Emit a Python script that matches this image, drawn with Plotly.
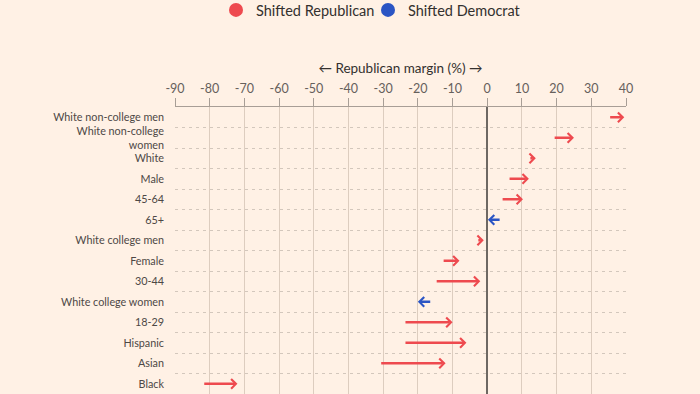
import plotly.graph_objects as go

categories = ["White non-college men", "White non-college<br>women", "White", "Male", "45-64", "65+",
              "White college men", "Female", "30-44", "White college women", "18-29", "Hispanic",
              "Asian", "Black"]
margin_2020 = [35, 19, 12, 6, 4, 4, -3, -13, -15, -16, -24, -24, -31, -82]
margin_2024 = [39.5, 25, 14, 12, 10.3, 0.2, -1, -8, -2, -20, -10, -6, -12, -72]
x_ticks = [-90, -80, -70, -60, -50, -40, -30, -20, -10, 0, 10, 20, 30, 40]
x_tick_labels = ["-90", "-80", "-70", "-60", "-50", "-40", "-30", "-20", "-10", "0", "10", "20", "30", "40"]

RED = "#ee4a4f"
BLUE = "#2b55c4"
BG = "#fff1e5"
FONT = "Lato"

fig = go.Figure()

# invisible trace to establish category axis
fig.add_trace(go.Scatter(x=margin_2024, y=categories, mode="markers",
                         marker=dict(opacity=0), showlegend=False, hoverinfo="skip"))

for name, col in [("Shifted Republican", RED), ("Shifted Democrat", BLUE)]:
    fig.add_trace(go.Scatter(x=[None], y=[None], mode="markers", name=name,
                             marker=dict(color=col, size=14, symbol="circle")))

annotations = []
for cat, a, b in zip(categories, margin_2020, margin_2024):
    col = RED if b > a else BLUE
    annotations.append(dict(x=b, y=cat, ax=a, ay=cat, xref="x", yref="y", axref="x", ayref="y",
                            text="", showarrow=True, arrowhead=4, arrowsize=0.75,
                            arrowwidth=2.5, arrowcolor=col, standoff=0))

fig.update_layout(
    width=700, height=394,
    paper_bgcolor=BG, plot_bgcolor=BG,
    margin=dict(l=175, r=74, t=107, b=0, autoexpand=False),
    font=dict(family=FONT, size=11, color="#4d4845"),
    showlegend=True,
    legend=dict(orientation="h", xref="paper", yref="paper", x=(216 - 175) / 451, y=(394 - 10) / 287,
                xanchor="left", yanchor="middle", font=dict(family=FONT, size=14.5, color="#33302e"),
                itemsizing="trace", bgcolor="rgba(0,0,0,0)", entrywidth=107),
    annotations=annotations,
    xaxis=dict(side="top", range=[-90, 40], tickvals=x_ticks, ticktext=x_tick_labels,
               ticks="outside", ticklen=8, automargin=False,
               tickcolor="#a89e96", showline=True, linecolor="#a89e96", linewidth=1,
               showgrid=True, gridcolor="#ddcdbf", gridwidth=1.2,
               zeroline=True, zerolinecolor="#6e6863", zerolinewidth=1.5,
               tickfont=dict(family=FONT, size=12.5, color="#66605c"),
               title=dict(text="← Republican margin (%) →",
                          font=dict(family=FONT, size=13.5, color="#33302e"), standoff=4)),
    yaxis=dict(type="category", categoryorder="array", categoryarray=categories,
               range=[len(categories) - 0.5, -0.5], tickson="boundaries", ticks="", automargin=False,
               showgrid=True, gridcolor="#d3c7bc", griddash="3px,4px", gridwidth=1,
               zeroline=False, showline=False, ticklabelstandoff=10,
               tickfont=dict(family=FONT, size=10.8, color="#4d4845")),
)

fig.write_html("out.html", config={"displayModeBar": False},
               post_script="document.body.style.margin='0';")
